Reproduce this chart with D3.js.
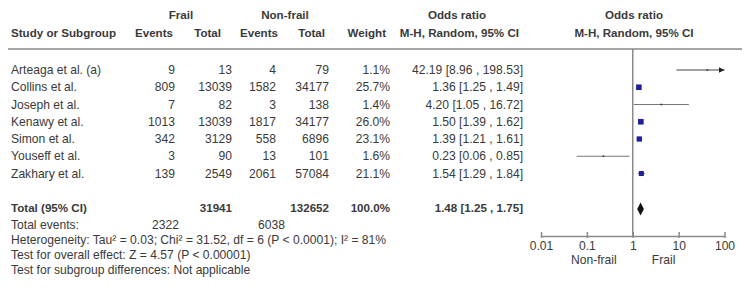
<!DOCTYPE html>
<html>
<head>
<meta charset="utf-8">
<script src="https://cdn.jsdelivr.net/npm/d3@7"></script>
<style>
  body { margin: 0; background: #fff; }
  svg text { font-family: "Liberation Sans", Arial, sans-serif; fill: #3a3a3a; }
</style>
</head>
<body>
<svg id="chart" width="750" height="297"></svg>
<script>
// ── Data ──────────────────────────────────────────────────
const studies     = ['Arteaga et al. (a)', 'Collins et al.', 'Joseph et al.', 'Kenawy et al.', 'Simon et al.', 'Youseff et al.', 'Zakhary et al.'];
const frailEv     = [9, 809, 7, 1013, 342, 3, 139];
const frailTot    = [13, 13039, 82, 13039, 3129, 90, 2549];
const nonEv       = [4, 1582, 3, 1817, 558, 13, 2061];
const nonTot      = [79, 34177, 138, 34177, 6896, 101, 57084];
const weights     = [1.1, 25.7, 1.4, 26.0, 23.1, 1.6, 21.1];
const orVal       = [42.19, 1.36, 4.20, 1.50, 1.39, 0.23, 1.54];
const orLo        = [8.96, 1.25, 1.05, 1.39, 1.21, 0.06, 1.29];
const orHi        = [198.53, 1.49, 16.72, 1.62, 1.61, 0.85, 1.84];

const total       = { frailTot: 31941, nonTot: 132652, weight: '100.0%', or: 1.48, lo: 1.25, hi: 1.75 };
const totalEvents = [2322, 6038];
const axisTicks   = [0.01, 0.1, 1, 10, 100];
const footLines   = [
  'Heterogeneity: Tau² = 0.03; Chi² = 31.52, df = 6 (P < 0.0001); I² = 81%',
  'Test for overall effect: Z = 4.57 (P < 0.00001)',
  'Test for subgroup differences: Not applicable'
];

// ── Setup ─────────────────────────────────────────────────
const svg = d3.select('#chart');
const FS = 12.1;   // body text
const HS = 11.6;   // bold header text
const grey = '#8a8a8a';
const fmt2 = d3.format('.2f');

const x = d3.scaleLog().domain([0.01, 100]).range([541, 724.5]);
const y = d3.scalePoint().domain(studies).range([70, 173.5]);

// column right edges
const col = { ev1: 175, tot1: 232, ev2: 276, tot2: 329, w: 390, or: 523 };

function txt(xp, yp, s, anchor, bold, size) {
  return svg.append('text')
    .attr('x', xp).attr('y', yp).attr('dy', '0.35em')
    .attr('text-anchor', anchor || 'start')
    .attr('font-size', size || FS)
    .attr('font-weight', bold ? 'bold' : 'normal')
    .text(s);
}

// ── Header ────────────────────────────────────────────────
txt(181, 15, 'Frail', 'middle', true, HS);
txt(285, 15, 'Non-frail', 'middle', true, HS);
txt(457, 15, 'Odds ratio', 'middle', true, HS);
txt(634, 15, 'Odds ratio', 'middle', true, HS);

txt(11, 33, 'Study or Subgroup', 'start', true, HS);
txt(173, 33, 'Events', 'end', true, HS);
txt(221, 33, 'Total', 'end', true, HS);
txt(278, 33, 'Events', 'end', true, HS);
txt(325, 33, 'Total', 'end', true, HS);
txt(386, 33, 'Weight', 'end', true, HS);
txt(519, 33, 'M-H, Random, 95% CI', 'end', true, HS);
txt(634, 33, 'M-H, Random, 95% CI', 'middle', true, HS);

svg.append('line')
  .attr('x1', 8).attr('x2', 742).attr('y1', 49).attr('y2', 49)
  .attr('stroke', grey).attr('stroke-width', 1.5);

// ── Study rows ────────────────────────────────────────────
studies.forEach((s, i) => {
  const yy = y(s);
  txt(11, yy, s);
  txt(col.ev1, yy, frailEv[i], 'end');
  txt(col.tot1, yy, frailTot[i], 'end');
  txt(col.ev2, yy, nonEv[i], 'end');
  txt(col.tot2, yy, nonTot[i], 'end');
  txt(col.w, yy, weights[i].toFixed(1) + '%', 'end');
  txt(col.or, yy, `${fmt2(orVal[i])} [${fmt2(orLo[i])} , ${fmt2(orHi[i])}]`, 'end');
});

// ── Totals & footer text ──────────────────────────────────
txt(11, 208, 'Total (95% CI)', 'start', true, HS);
txt(col.tot1, 208, total.frailTot, 'end', true, HS);
txt(col.tot2, 208, total.nonTot, 'end', true, HS);
txt(col.w, 208, total.weight, 'end', true, HS);
txt(col.or, 208, `${fmt2(total.or)} [${fmt2(total.lo)} , ${fmt2(total.hi)}]`, 'end', true, HS);

txt(11, 225, 'Total events:');
txt(179, 225, totalEvents[0], 'end');
txt(285, 225, totalEvents[1], 'end');
footLines.forEach((l, i) => txt(11, 240 + i * 15, l));

// ── Forest plot ───────────────────────────────────────────
const axisY = 236;

// null line
svg.append('line')
  .attr('x1', x(1)).attr('x2', x(1)).attr('y1', 49).attr('y2', axisY)
  .attr('stroke', grey).attr('stroke-width', 1.5);

svg.append('defs').append('marker')
  .attr('id', 'arrow').attr('viewBox', '0 0 10 10')
  .attr('refX', 10).attr('refY', 5)
  .attr('markerWidth', 6).attr('markerHeight', 6)
  .attr('markerUnits', 'userSpaceOnUse')
  .attr('orient', 'auto')
  .append('path').attr('d', 'M0,0L10,5L0,10Z').attr('fill', '#222');

const [dMin, dMax] = x.domain();
studies.forEach((s, i) => {
  const yy = y(s);
  const hiClip = Math.min(orHi[i], dMax);
  const loClip = Math.max(orLo[i], dMin);
  const ln = svg.append('line')
    .attr('x1', x(loClip)).attr('x2', x(hiClip))
    .attr('y1', yy).attr('y2', yy)
    .attr('stroke', '#777').attr('stroke-width', 1);
  if (orHi[i] > dMax) ln.attr('stroke', '#444').attr('marker-end', 'url(#arrow)');
  const side = Math.max(1.6, Math.sqrt(weights[i]) * 1.1);
  svg.append('rect')
    .attr('x', x(orVal[i]) - side / 2).attr('y', yy - side / 2)
    .attr('width', side).attr('height', side)
    .attr('fill', weights[i] > 5 ? '#1f1f9e' : '#333');
});

// pooled diamond
const dy = 209, dh = 6.5;
svg.append('path')
  .attr('d', `M${x(total.lo)},${dy}L${x(total.or)},${dy - dh}L${x(total.hi)},${dy}L${x(total.or)},${dy + dh}Z`)
  .attr('fill', '#111');

// axis
const axis = d3.axisBottom(x).tickValues(axisTicks).tickFormat(d => d).tickSize(0);
const gAx = svg.append('g').attr('transform', `translate(0,${axisY})`).call(axis);
gAx.select('.domain').attr('stroke', grey).attr('stroke-width', 1.5);
gAx.selectAll('.tick line').remove();
gAx.selectAll('.tick').append('line')
  .attr('y1', -4).attr('y2', 2).attr('stroke', grey).attr('stroke-width', 1.5);
gAx.selectAll('.tick text')
  .attr('y', 5).attr('font-size', FS)
  .attr('font-family', '"Liberation Sans", Arial, sans-serif').attr('fill', '#3a3a3a');

txt(x(0.1) + 7, 260, 'Non-frail', 'middle');
txt(x(10) - 15, 260, 'Frail', 'middle');
</script>
</body>
</html>
